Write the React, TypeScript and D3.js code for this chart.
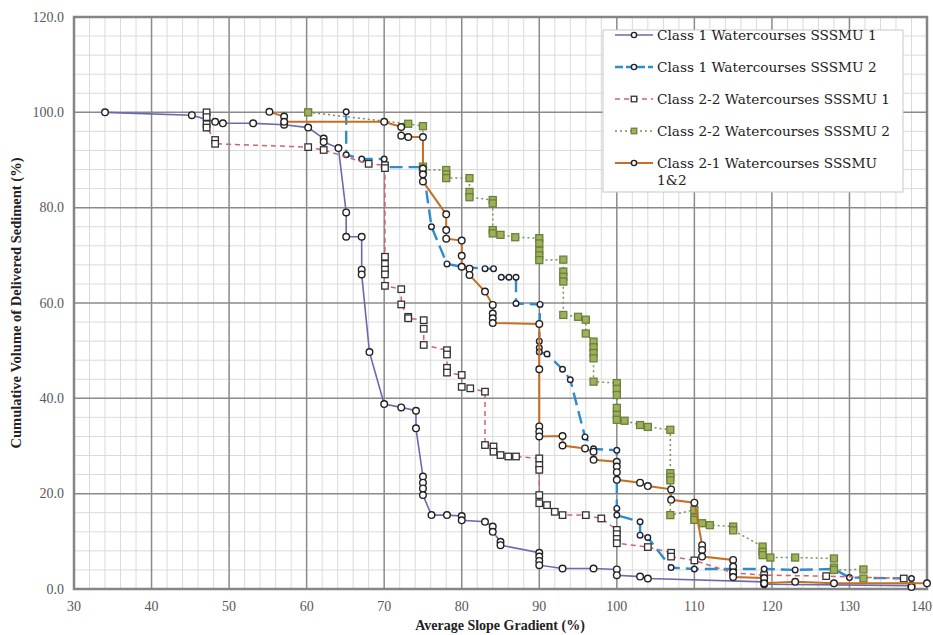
import React from "react";
import * as d3 from "d3";

const W = 933;
const H = 635;

const xTicks = [30, 40, 50, 60, 70, 80, 90, 100, 110, 120, 130, 140];
const yTicks = [0, 20, 40, 60, 80, 100, 120];

const seriesNames = [
  "Class 1 Watercourses SSSMU 1",
  "Class 1 Watercourses SSSMU 2",
  "Class 2-2 Watercourses SSSMU 1",
  "Class 2-2 Watercourses SSSMU 2",
  "Class 2-1 Watercourses SSSMU 1&2",
];

const class1Sssmu1: [number, number][] = [
  [34, 100], [45.2, 99.4], [48.2, 98.0], [49.2, 97.7], [53.1, 97.7], [57.1, 97.4], [60.2, 96.8],
  [62.2, 94.5], [62.2, 93.8], [64.1, 92.5], [65.1, 79.0], [65.1, 73.9], [67.1, 73.9], [67.1, 67.0],
  [67.1, 66.0], [68.1, 49.7], [70.0, 38.8], [72.2, 38.1], [74.1, 37.4], [74.1, 33.7], [75.0, 23.6],
  [75.0, 22.3], [75.0, 21.1], [75.0, 19.7], [76.1, 15.5], [78.1, 15.5], [80.0, 15.3], [80.0, 14.4],
  [83.0, 14.1], [84.0, 13.1], [84.0, 12.0], [85.0, 9.9], [85.0, 9.2], [90.0, 7.6], [90.0, 6.8],
  [90.0, 5.9], [90.0, 5.0], [93.0, 4.3], [97.0, 4.3], [100.0, 4.1], [100.0, 2.9], [103.0, 2.6],
  [104.0, 2.2], [119.0, 1.5], [119.0, 1.0], [138.0, 0.7], [138.0, 0.4],
];

const class1Sssmu2: [number, number][] = [
  [65.1, 100.1], [65.1, 91.1], [67.1, 90.2], [70.0, 90.2], [70.0, 88.5], [75.0, 88.5], [76.1, 76.0],
  [78.1, 68.2], [80.0, 67.6], [83.0, 67.2], [84.1, 67.2], [85.1, 65.4], [86.1, 65.4], [87.0, 65.4],
  [87.0, 59.9], [90.1, 59.7], [90.0, 52.0], [90.0, 50.6], [90.0, 49.7], [91.0, 49.3], [93.0, 46.1],
  [94.0, 43.9], [95.9, 31.9], [97.0, 29.4], [100.0, 29.1], [100.0, 16.9], [100.0, 15.5], [103.0, 14.1],
  [103.0, 11.3], [104.0, 10.8], [107.0, 4.5], [110.0, 4.2], [119.0, 4.2], [123.0, 4.0], [128.0, 4.2],
  [130.0, 2.4], [138.0, 2.2],
];

const class22Sssmu1: [number, number][] = [
  [47.1, 100.0], [47.1, 99.0], [47.1, 97.5], [47.1, 96.8], [48.2, 94.2], [48.2, 93.4], [60.2, 92.7],
  [62.2, 92.1], [68.0, 89.2], [70.1, 88.9], [70.1, 88.3], [70.1, 69.7], [70.1, 68.2], [70.1, 67.0],
  [70.1, 66.0], [70.1, 63.6], [72.2, 62.9], [72.2, 59.7], [73.1, 57.1], [73.1, 56.8], [75.1, 56.4],
  [75.1, 54.6], [75.1, 51.2], [78.1, 50.1], [78.1, 49.2], [78.1, 46.4], [78.1, 45.4], [80.0, 44.9],
  [80.0, 42.4], [81.1, 42.1], [83.0, 41.4], [83.0, 30.2], [84.1, 29.9], [84.1, 28.8], [85.0, 28.1],
  [86.0, 27.8], [87.0, 27.8], [90.0, 27.4], [90.0, 26.0], [90.0, 25.0], [90.0, 19.7], [90.0, 18.0],
  [91.0, 17.6], [92.0, 16.2], [93.0, 15.5], [96.0, 15.5], [98.0, 14.8], [100.0, 12.4], [100.0, 11.5],
  [100.0, 10.5], [100.0, 9.6], [104.0, 8.8], [107.0, 7.6], [107.0, 6.8], [110.0, 6.0], [115.0, 3.4],
  [119.0, 2.9], [127.0, 2.7], [137.0, 2.2],
];

const class22Sssmu2: [number, number][] = [
  [60.2, 100.0], [73.1, 97.6], [75.0, 97.1], [75.0, 88.6], [75.0, 87.9], [78.0, 87.9], [78.0, 87.0],
  [78.0, 86.2], [81.0, 86.2], [81.0, 83.3], [81.0, 82.2], [84.0, 81.6], [84.0, 80.9], [84.0, 75.3],
  [84.0, 74.6], [85.0, 74.3], [86.9, 73.8], [90.0, 73.6], [90.0, 72.5], [90.0, 71.0], [90.0, 70.0],
  [90.0, 69.0], [93.1, 69.1], [93.1, 66.6], [93.1, 65.5], [93.1, 64.5], [93.1, 57.5], [95.0, 57.1],
  [96.0, 56.5], [96.0, 53.6], [97.0, 51.9], [97.0, 50.7], [97.0, 49.5], [97.0, 48.4], [97.0, 43.5],
  [100.0, 43.2], [100.0, 42.0], [100.0, 40.7], [100.0, 38.0], [100.0, 36.5], [100.0, 35.5],
  [101.0, 35.3], [103.0, 34.4], [104.0, 34.0], [106.9, 33.4], [106.9, 24.3], [106.9, 23.5],
  [106.9, 22.8], [106.9, 15.5], [110.0, 16.6], [110.0, 15.0], [110.0, 14.5], [111.0, 13.8],
  [112.0, 13.4], [115.0, 13.1], [115.0, 12.3], [118.8, 8.9], [118.8, 7.8], [118.8, 7.1], [119.8, 6.6],
  [123.0, 6.6], [128.0, 6.4], [128.0, 4.5], [128.0, 4.0], [131.8, 4.1], [131.8, 2.2],
];

const class21Sssmu12: [number, number][] = [
  [55.2, 100.1], [57.1, 99.1], [57.1, 98.0], [70.0, 98.0], [72.2, 96.9], [72.2, 95.1], [73.1, 94.8],
  [75.0, 94.8], [75.0, 88.2], [75.0, 87.0], [75.0, 85.5], [78.0, 78.6], [78.0, 75.3], [78.0, 73.5],
  [80.0, 73.1], [80.0, 69.9], [80.0, 67.6], [81.0, 67.2], [81.0, 65.9], [83.0, 62.4], [84.0, 59.6],
  [84.0, 57.8], [84.0, 56.8], [84.0, 55.8], [90.0, 55.6], [90.0, 46.1], [90.0, 34.1], [90.0, 33.0],
  [90.0, 32.0], [93.0, 32.1], [93.0, 30.1], [95.9, 29.5], [97.0, 28.8], [97.0, 27.1], [100.0, 26.7],
  [100.0, 25.7], [100.0, 24.5], [100.0, 22.9], [103.0, 22.3], [104.0, 21.6], [107.0, 20.9],
  [107.0, 18.7], [110.0, 18.1], [111.0, 9.2], [111.0, 8.2], [111.0, 6.8], [115.0, 6.1], [115.0, 4.7],
  [115.0, 3.5], [115.0, 2.5], [119.0, 2.3], [119.0, 1.2], [123.0, 1.5], [128.0, 1.2], [140.0, 1.2],
];

type Style = {
  stroke: string;
  width: number;
  dash: string | undefined;
  marker: "circle" | "square";
  mFill: string;
  mStroke: string;
  size: number;
};

const styles: Style[] = [
  { stroke: "#6a6aae", width: 1.6, dash: undefined, marker: "circle", mFill: "#ffffff", mStroke: "#222", size: 3.3 },
  { stroke: "#2d8ccc", width: 2.4, dash: "13 6", marker: "circle", mFill: "#ffffff", mStroke: "#223", size: 2.8 },
  { stroke: "#d2626e", width: 1.5, dash: "5 4", marker: "square", mFill: "#ffffff", mStroke: "#333", size: 6.5 },
  { stroke: "#7f8c5e", width: 1.5, dash: "2 3", marker: "square", mFill: "#9bb25a", mStroke: "#6d7f3a", size: 7 },
  { stroke: "#c46f22", width: 2, dash: undefined, marker: "circle", mFill: "#ffffff", mStroke: "#222", size: 3.3 },
];

const allSeries = [class1Sssmu1, class1Sssmu2, class22Sssmu1, class22Sssmu2, class21Sssmu12];

const L = 74, R = 927, T = 17, B = 589;

export default function App() {
  const x = d3.scaleLinear().domain([30, 140]).range([L, R]);
  const y = d3.scaleLinear().domain([0, 120]).range([B, T]);
  const line = d3
    .line<[number, number]>()
    .x((d) => x(d[0]))
    .y((d) => y(d[1]));

  const minorX = d3.range(30, 141, 2).filter((v) => v % 10 !== 0);
  const minorY = d3.range(0, 121, 4).filter((v) => v % 20 !== 0);

  const renderMarker = (s: Style, cx: number, cy: number, key: string) =>
    s.marker === "circle" ? (
      <circle key={key} cx={cx} cy={cy} r={s.size} fill={s.mFill} stroke={s.mStroke} strokeWidth={1.4} />
    ) : (
      <rect
        key={key}
        x={cx - s.size / 2}
        y={cy - s.size / 2}
        width={s.size}
        height={s.size}
        fill={s.mFill}
        stroke={s.mStroke}
        strokeWidth={1.3}
      />
    );

  const legendX = 603, legendY = 30;
  const legendRows = [40, 72, 104, 136, 168];

  return (
    <svg
      width={W}
      height={H}
      style={{ position: "absolute", left: 0, top: 0, background: "#fff" }}
      xmlns="http://www.w3.org/2000/svg"
    >
      <rect x={0} y={0} width={W} height={H} fill="#fff" />
      {/* minor gridlines */}
      {minorX.map((v) => (
        <line key={"mx" + v} x1={x(v)} x2={x(v)} y1={T} y2={B} stroke="#dadada" strokeWidth={1} />
      ))}
      {minorY.map((v) => (
        <line key={"my" + v} x1={L} x2={R} y1={y(v)} y2={y(v)} stroke="#dadada" strokeWidth={1} />
      ))}
      {/* major gridlines */}
      {xTicks.map((v) => (
        <line key={"gx" + v} x1={x(v)} x2={x(v)} y1={T} y2={B} stroke="#8a8a8a" strokeWidth={1.5} />
      ))}
      {yTicks.map((v) => (
        <line key={"gy" + v} x1={L} x2={R} y1={y(v)} y2={y(v)} stroke="#8a8a8a" strokeWidth={1.5} />
      ))}
      <rect x={L} y={T} width={R - L} height={B - T} fill="none" stroke="#858585" strokeWidth={2.5} />

      {/* tick labels */}
      {yTicks.map((v) => (
        <text
          key={"ty" + v}
          x={64}
          y={y(v) + 4.5}
          textAnchor="end"
          fontFamily="'Liberation Serif', serif"
          fontSize={14}
          fill="#595959"
        >
          {v.toFixed(1)}
        </text>
      ))}
      {xTicks.map((v, i) => (
        <text
          key={"tx" + v}
          x={i === xTicks.length - 1 ? W - 1 : x(v)}
          y={611}
          textAnchor={i === xTicks.length - 1 ? "end" : "middle"}
          fontFamily="'Liberation Serif', serif"
          fontSize={14}
          fill="#595959"
        >
          {v}
        </text>
      ))}

      {/* axis titles */}
      <text
        x={500}
        y={630}
        textAnchor="middle"
        fontFamily="'Liberation Serif', serif"
        fontWeight="bold"
        fontSize={14}
        fill="#222"
      >
        Average Slope Gradient (%)
      </text>
      <text
        transform={`translate(21, ${(T + B) / 2}) rotate(-90)`}
        textAnchor="middle"
        fontFamily="'Liberation Serif', serif"
        fontWeight="bold"
        fontSize={14.5}
        fill="#222"
      >
        Cumulative Volume of Delivered Sediment (%)
      </text>

      {/* series */}
      {allSeries.map((data, i) => {
        const s = styles[i];
        return (
          <g key={"s" + i}>
            <path
              d={line(data) || ""}
              fill="none"
              stroke={s.stroke}
              strokeWidth={s.width}
              strokeDasharray={s.dash}
            />
            {data.map((d, j) => renderMarker(s, x(d[0]), y(d[1]), `m${i}-${j}`))}
          </g>
        );
      })}

      {/* legend */}
      <rect x={legendX} y={legendY} width={300} height={162} fill="#fff" stroke="#c8c8c8" strokeWidth={1} />
      {seriesNames.map((name, i) => {
        const s = styles[i];
        const ry = legendRows[i];
        const lines = i === 4 ? ["Class 2-1 Watercourses SSSMU", "1&2"] : [name];
        return (
          <g key={"lg" + i}>
            <line
              x1={615}
              x2={653}
              y1={ry - 5}
              y2={ry - 5}
              stroke={s.stroke}
              strokeWidth={s.width}
              strokeDasharray={s.dash ? (i === 1 ? "8 3" : s.dash) : undefined}
            />
            {renderMarker({ ...s, size: s.marker === "circle" ? 2.6 : 5.5 }, 634, ry - 5, "lm" + i)}
            {lines.map((t, k) => (
              <text
                key={k}
                x={657}
                y={ry + k * 17}
                fontFamily="'DejaVu Serif', serif"
                fontSize={13.7}
                fill="#222"
              >
                {t}
              </text>
            ))}
          </g>
        );
      })}
    </svg>
  );
}
